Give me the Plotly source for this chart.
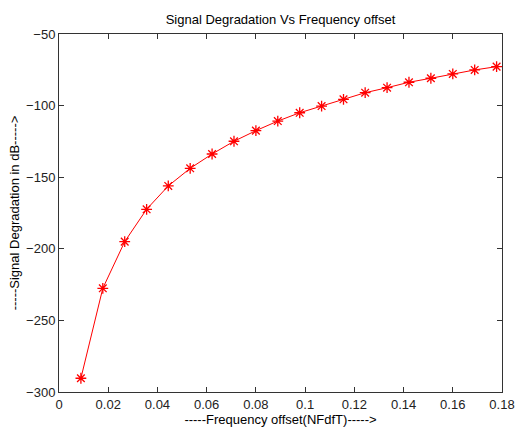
import plotly.graph_objects as go

freq_offset = [0.0089, 0.0178, 0.0267, 0.0356, 0.0444, 0.0533, 0.0622, 0.0711, 0.0800, 0.0889,
               0.0978, 0.1067, 0.1156, 0.1244, 0.1333, 0.1422, 0.1511, 0.1600, 0.1689, 0.1778]
degradation_db = [-290.4, -227.6, -195.0, -172.4, -156.1, -143.8, -133.8, -124.9, -117.5, -110.8,
                  -105.0, -100.3, -95.6, -91.0, -87.5, -83.7, -80.9, -77.9, -75.1, -72.8]
x_ticks = [0, 0.02, 0.04, 0.06, 0.08, 0.1, 0.12, 0.14, 0.16, 0.18]
x_tick_labels = ["0", "0.02", "0.04", "0.06", "0.08", "0.1", "0.12", "0.14", "0.16", "0.18"]
y_ticks = [-300, -250, -200, -150, -100, -50]

font_family = "Liberation Sans, Arial, sans-serif"

fig = go.Figure()
fig.add_trace(go.Scatter(
    x=freq_offset, y=degradation_db, mode="lines+markers",
    line=dict(color="#ff0000", width=1),
    marker=dict(symbol="asterisk-open", size=9, color="#ff0000",
                line=dict(color="#ff0000", width=1.3)),
    showlegend=False,
))

axis_common = dict(
    showline=True, linecolor="#333333", linewidth=1, mirror="ticks",
    ticks="inside", ticklen=5, tickcolor="#333333", showgrid=False, zeroline=False,
    automargin=False,
    tickfont=dict(family=font_family, size=13, color="#222222"),
)

fig.update_layout(
    width=515, height=428,
    margin=dict(l=59, r=13, t=34, b=36, autoexpand=False),
    paper_bgcolor="white", plot_bgcolor="white",
    font=dict(family=font_family, size=13, color="#000000"),
    title=dict(text="Signal Degradation Vs Frequency offset", x=0.5, xref="paper",
               xanchor="center", y=1 - 19 / 428, yanchor="middle",
               font=dict(family=font_family, size=13, color="#000000")),
    xaxis=dict(range=[0, 0.18], tickvals=x_ticks, ticktext=x_tick_labels,
               title=dict(text="-----Frequency offset(NFdfT)----->", standoff=1,
                          font=dict(family=font_family, size=13)),
               **axis_common),
    yaxis=dict(range=[-300, -50], tickvals=y_ticks,
               title=dict(text="-----Signal Degradation in dB----->", standoff=3,
                          font=dict(family=font_family, size=13)),
               **axis_common),
)

fig.write_html("out.html")
